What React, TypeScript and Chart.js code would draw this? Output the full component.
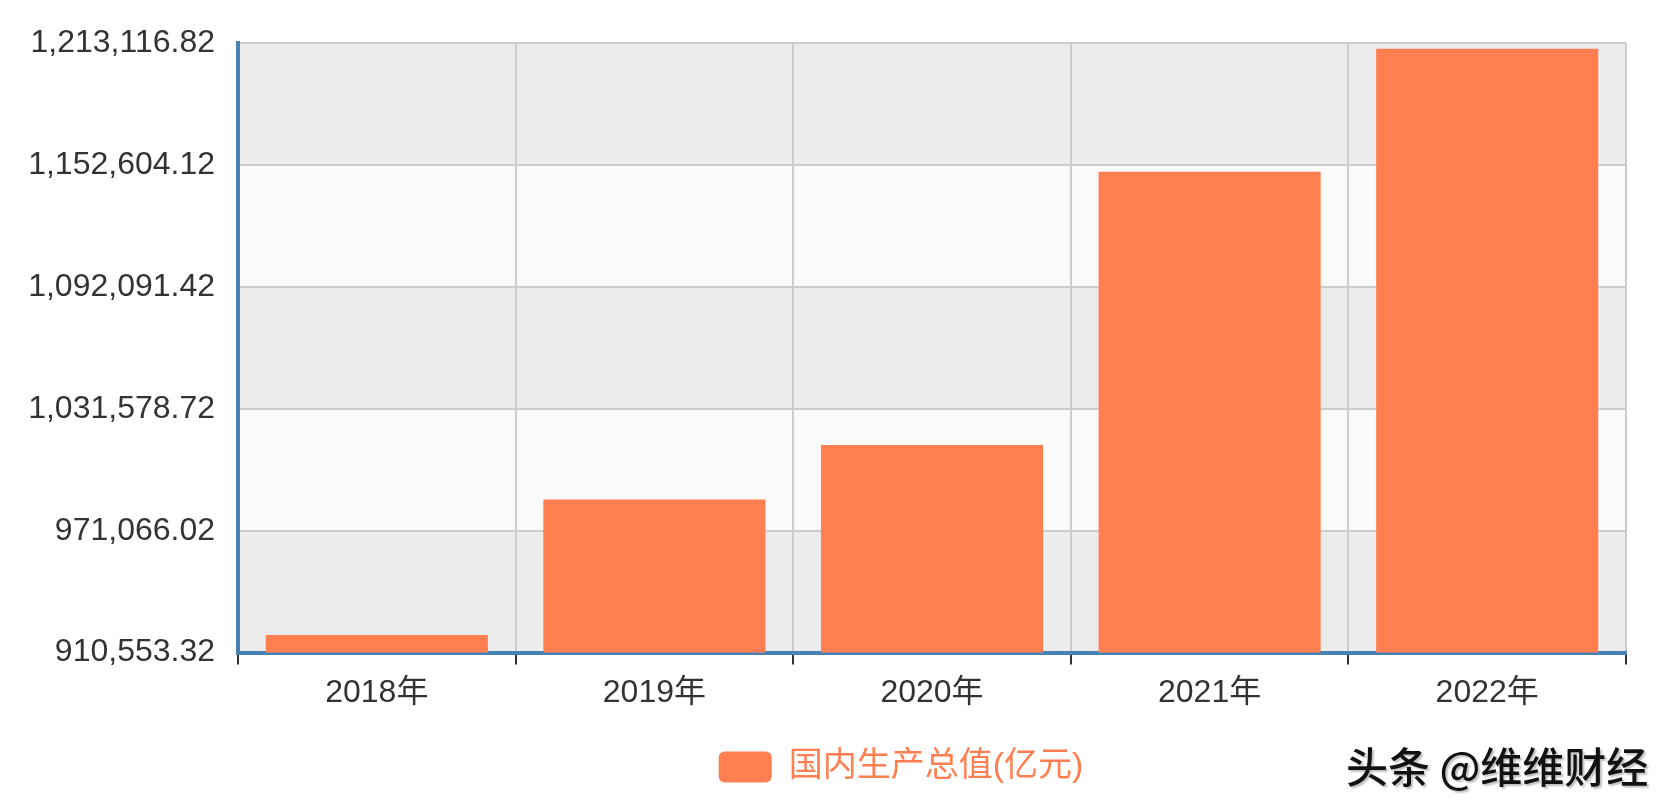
import React, { useEffect, useRef } from "react";
import { Chart, registerables } from "chart.js";

Chart.register(...registerables);

const categories = ["2018年", "2019年", "2020年", "2021年", "2022年"];
const gdpValues = [919281.1, 986515.2, 1013567.0, 1149237.0, 1210207.2];
const yTickValues = [910553.32, 971066.02, 1031578.72, 1092091.42, 1152604.12, 1213116.82];
const seriesLabel = "国内生产总值(亿元)";
const watermarkText = "头条 @维维财经";

const FONT = 'Arial, "Liberation Sans", "Noto Sans CJK SC", sans-serif';

const fmt = (v: number) =>
  v.toLocaleString("en-US", { minimumFractionDigits: 2, maximumFractionDigits: 2 });

const bandPlugin = {
  id: "bands",
  beforeDraw(chart: any) {
    const { ctx, chartArea, scales } = chart;
    const y = scales.y;
    ctx.save();
    ctx.fillStyle = "#ffffff";
    ctx.fillRect(0, 0, chart.width, chart.height);
    for (let i = 0; i < yTickValues.length - 1; i++) {
      const y0 = y.getPixelForValue(yTickValues[i]);
      const y1 = y.getPixelForValue(yTickValues[i + 1]);
      ctx.fillStyle = i % 2 === 0 ? "#ececec" : "#fafafa";
      ctx.fillRect(chartArea.left, y1, chartArea.right - chartArea.left, y0 - y1);
    }
    ctx.restore();
  },
};

const legendShiftPlugin = {
  id: "legendShift",
  afterLayout(chart: any) {
    const l = chart.legend;
    if (l) {
      l.left += 83;
      l.right += 83;
    }
  },
};

export default function App() {
  const ref = useRef<HTMLCanvasElement>(null);

  useEffect(() => {
    if (!ref.current) return;
    const chart = new Chart(ref.current, {
      type: "bar",
      data: {
        labels: categories,
        datasets: [
          {
            label: seriesLabel,
            data: gdpValues,
            backgroundColor: "#ff7f50",
            borderWidth: 0,
            barPercentage: 0.8,
            categoryPercentage: 1.0,
          },
        ],
      },
      options: {
        responsive: false,
        animation: false,
        devicePixelRatio: 1,
        layout: { padding: { top: 43, left: 10, right: 53, bottom: 17 } },
        plugins: {
          tooltip: { enabled: false },
          legend: {
            position: "bottom",
            labels: {
              boxWidth: 53,
              boxHeight: 31,
              useBorderRadius: true,
              borderRadius: 6,
              color: "#ff7f50",
              font: { size: 34, family: FONT },
              padding: 10,
            },
          },
        },
        scales: {
          x: {
            offset: true,
            grid: {
              offset: true,
              color: "#cccccc",
              lineWidth: 2,
              drawTicks: true,
              tickLength: 12,
              tickColor: "#333333",
              tickWidth: 2,
            },
            border: { color: "#4682b4", width: 4 },
            ticks: { color: "#333333", font: { size: 32, family: FONT }, padding: 9 },
            afterFit: (s: any) => {
              s.height += 19;
            },
          },
          y: {
            min: yTickValues[0],
            max: yTickValues[yTickValues.length - 1],
            afterBuildTicks: (s: any) => {
              s.ticks = yTickValues.map((v) => ({ value: v }));
            },
            grid: { color: "#cccccc", lineWidth: 2, drawTicks: false },
            border: { color: "#4682b4", width: 4 },
            ticks: {
              color: "#333333",
              font: { size: 32, family: FONT },
              padding: 23,
              callback: (v: any) => fmt(Number(v)),
            },
            afterFit: (s: any) => {
              s.width = 228;
            },
          },
        },
      },
      plugins: [bandPlugin, legendShiftPlugin],
    });
    return () => chart.destroy();
  }, []);

  return (
    <div style={{ position: "fixed", left: 0, top: 0, width: 1679, height: 811, background: "#fff" }}>
      <canvas ref={ref} width={1679} height={811} style={{ width: 1679, height: 811, display: "block" }} />
      <div
        style={{
          position: "absolute",
          left: 1346,
          top: 740,
          fontSize: 42,
          lineHeight: "50px",
          fontFamily: '"Noto Sans CJK SC", sans-serif',
          fontWeight: 500,
          color: "#111",
          whiteSpace: "nowrap",
          textShadow: "2px 2px 2px rgba(0,0,0,0.25)",
        }}
      >
        {watermarkText}
      </div>
    </div>
  );
}
